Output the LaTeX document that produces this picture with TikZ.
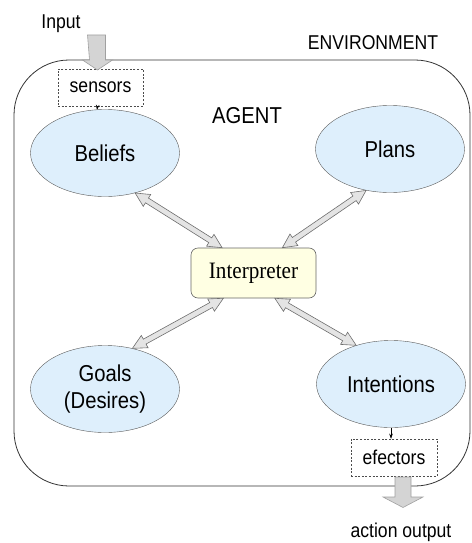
\documentclass[tikz,border=0pt]{standalone}
\usepackage{fontspec}
\setmainfont{Liberation Sans}[FakeStretch=0.88]
\newfontfamily\interpfont{Liberation Serif}[FakeStretch=0.9]
\usetikzlibrary{shapes.geometric,calc,arrows.meta}
\definecolor{ellfill}{RGB}{222,239,252}
\definecolor{boxfill}{RGB}{255,255,227}
\definecolor{blockfill}{RGB}{212,212,212}
\definecolor{blockline}{RGB}{160,160,160}
\definecolor{dblfill}{RGB}{228,228,228}
\definecolor{dblline}{RGB}{110,110,110}
\newcommand\dblarrow[2]{%
  \path[dblarr]
    (#1)
    -- ($(#1)!14pt!(#2)!7pt!90:(#2)$)
    -- ($(#1)!14pt!(#2)!2.8pt!90:(#2)$)
    -- ($(#2)!14pt!(#1)!2.8pt!-90:(#1)$)
    -- ($(#2)!14pt!(#1)!7pt!-90:(#1)$)
    -- (#2)
    -- ($(#2)!14pt!(#1)!7pt!90:(#1)$)
    -- ($(#2)!14pt!(#1)!2.8pt!90:(#1)$)
    -- ($(#1)!14pt!(#2)!2.8pt!-90:(#2)$)
    -- ($(#1)!14pt!(#2)!7pt!-90:(#2)$)
    -- cycle;}
\begin{document}
\begin{tikzpicture}[x=1pt,y=-1pt,
  kb/.style={ellipse, draw=black!65, fill=ellfill, inner sep=0pt,
    minimum width=149pt, minimum height=87pt, align=center,
    font=\fontsize{23}{28}\selectfont},
  lbl/.style={inner sep=0pt, anchor=base, font=\fontsize{20}{24}\selectfont},
  dbox/.style={draw=black!70, dash pattern=on 2pt off 1.6pt, line width=0.5pt,
    inner sep=0pt, font=\fontsize{20}{24}\selectfont},
  dblarr/.style={fill=dblfill, draw=dblline, line width=0.6pt, line join=miter},
  blockarr/.style={fill=blockfill, draw=blockline, line width=0.6pt},
  tiny/.style={draw=black, line width=0.5pt, -{Stealth[length=5pt,width=3.5pt]}}
]
\useasboundingbox (0,0) rectangle (471,543);

% environment / agent border
\draw[black!80, line width=0.8pt, rounded corners=55pt] (14,60) rectangle (470,486);

% texts
\node[lbl] (input) at (61,28.5) {Input};
\node[lbl] (env) at (373,50) {ENVIRONMENT};
\node[lbl, font=\fontsize{23}{28}\selectfont] (agent) at (247,123) {AGENT};
\node[lbl] (actout) at (401,537) {action output};

% dashed boxes
\node[dbox, minimum width=85pt, minimum height=37pt] (sensors) at (100.5,87.5) {sensors};
\node[dbox, minimum width=86pt, minimum height=37pt] (efectors) at (394,457.5) {efectors};

% knowledge ellipses
\node[kb] (beliefs) at (105,153) {\raisebox{-2pt}{Beliefs}};
\node[kb] (plans) at (390,149) {\raisebox{-2pt}{Plans}};
\node[kb] (goals) at (105,389) {Goals\\[-1pt](Desires)};
\node[kb] (intentions) at (391,384) {\raisebox{-2pt}{Intentions}};

% interpreter
\node[draw=black!60, fill=boxfill, rounded corners=7pt, line width=0.6pt,
  minimum width=125pt, minimum height=50pt, inner sep=0pt,
  font=\interpfont\fontsize{23.5}{28}\selectfont] (interp) at (253.5,273) {Interpreter};

% anchor points on the interpreter
\coordinate (iNW) at ($(interp.north west)!0.25!(interp.north east)$);
\coordinate (iNE) at ($(interp.north west)!0.73!(interp.north east)$);
\coordinate (iSW) at ($(interp.south west)!0.26!(interp.south east)$);
\coordinate (iSE) at ($(interp.south west)!0.67!(interp.south east)$);

% double arrows
\dblarrow{beliefs.-53}{iNW}
\dblarrow{plans.240}{iNE}
\dblarrow{goals.56}{iSW}
\dblarrow{intentions.132}{iSE}

% small arrows
\draw[tiny] ($(sensors.south)+(-3,0)$) -- ($(beliefs.north)+(-8,0.5)$);
\draw[tiny] (intentions.south) -- (efectors.north -| intentions.south);

% input / output block arrows
\path[blockarr] (87.5,35) -- (105.5,35) -- (105.5,60) -- (112.5,60) -- (97.5,70)
  -- (82.5,60) -- (89.5,60) -- cycle;
\path[blockarr] (395,477) -- (411,477) -- (411,497) -- (423,497) -- (403,507.5)
  -- (383,497) -- (395,497) -- cycle;
\end{tikzpicture}
\end{document}
